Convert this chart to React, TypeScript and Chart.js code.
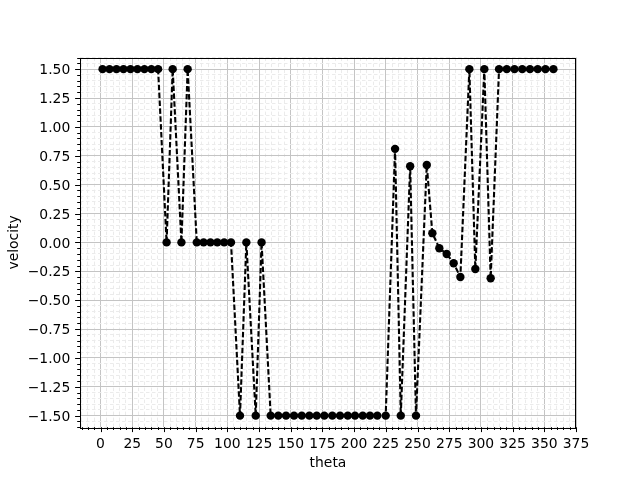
import { useEffect, useRef } from "react";
import { Chart, registerables } from "chart.js";

Chart.register(...registerables);

// ---- data ----
const thetaValues = [
  1.6, 7.1, 12.6, 18.1, 23.6, 29.1, 34.6, 40.1, 45.4,
  52.1, 56.9, 63.8, 68.7,
  75.9, 81.3, 86.7, 92.1, 97.5, 102.9,
  110.0, 115.0, 122.4, 127.0,
  134.2, 140.2, 146.3, 152.6, 158.7, 164.7, 170.5, 176.5, 182.8, 188.9, 195.0, 200.7, 206.8, 212.5, 218.3, 224.9,
  232.3, 236.8, 244.2, 248.8, 257.3, 261.7, 267.2, 273.0, 278.5, 283.8,
  290.9, 295.6, 302.7, 307.7,
  314.3, 320.4, 326.5, 332.6, 338.7, 344.8, 350.9, 357.2,
];
const velocityValues = [
  1.5, 1.5, 1.5, 1.5, 1.5, 1.5, 1.5, 1.5, 1.5,
  0, 1.5, 0, 1.5,
  0, 0, 0, 0, 0, 0,
  -1.5, 0, -1.5, 0,
  -1.5, -1.5, -1.5, -1.5, -1.5, -1.5, -1.5, -1.5, -1.5, -1.5, -1.5, -1.5, -1.5, -1.5, -1.5, -1.5,
  0.81, -1.5, 0.66, -1.5, 0.67, 0.08, -0.05, -0.1, -0.18, -0.3,
  1.5, -0.23, 1.5, -0.31,
  1.5, 1.5, 1.5, 1.5, 1.5, 1.5, 1.5, 1.5,
];
const xMajorTicks = [0, 25, 50, 75, 100, 125, 150, 175, 200, 225, 250, 275, 300, 325, 350, 375];
const yMajorTicks = [-1.5, -1.25, -1.0, -0.75, -0.5, -0.25, 0, 0.25, 0.5, 0.75, 1.0, 1.25, 1.5];
const xMinorStep = 5;
const yMinorStep = 0.05;
const xLimits = [-16.2, 375.0];
const yLimits = [-1.6, 1.6];
const xTitle = "theta";
const yTitle = "velocity";

const FONT = "'DejaVu Sans', sans-serif";
const FONT_SIZE = 13.9;

const isMajor = (v: number, majors: number[]) => majors.some((m) => Math.abs(m - v) < 1e-6);

const stepTicks = (min: number, max: number, step: number) => {
  const out: number[] = [];
  const i0 = Math.ceil(min / step - 1e-9);
  const i1 = Math.floor(max / step + 1e-9);
  for (let i = i0; i <= i1; i++) out.push(Math.round(i * step * 1e6) / 1e6);
  return out;
};

const fmtY = (v: number) => {
  const s = v.toFixed(2);
  return s.startsWith("-") ? "\u2212" + s.slice(1) : s;
};

const framePlugin = {
  id: "mplFrame",
  afterDraw(chart: any) {
    const { ctx, chartArea: a, scales } = chart;
    const xs = scales.x;
    const ys = scales.y;
    ctx.save();
    ctx.strokeStyle = "#000";
    ctx.lineWidth = 1;
    ctx.beginPath();
    for (const v of stepTicks(xLimits[0], xLimits[1], xMinorStep)) {
      const px = Math.round(xs.getPixelForValue(v)) + 0.5;
      const len = isMajor(v, xMajorTicks) ? 4.9 : 2.8;
      ctx.moveTo(px, a.bottom);
      ctx.lineTo(px, a.bottom + len);
    }
    for (const v of stepTicks(yLimits[0], yLimits[1], yMinorStep)) {
      const py = Math.round(ys.getPixelForValue(v)) + 0.5;
      const len = isMajor(v, yMajorTicks) ? 4.9 : 2.8;
      ctx.moveTo(a.left, py);
      ctx.lineTo(a.left - len, py);
    }
    ctx.stroke();
    ctx.strokeRect(Math.round(a.left) + 0.5, Math.round(a.top) + 0.5, Math.round(a.right - a.left) - 1, Math.round(a.bottom - a.top));
    ctx.restore();
  },
};

export default function App() {
  const ref = useRef<HTMLCanvasElement | null>(null);

  useEffect(() => {
    if (!ref.current) return;
    Chart.defaults.font.family = FONT;
    Chart.defaults.font.size = FONT_SIZE;
    Chart.defaults.color = "#000";

    const points = thetaValues.map((t, i) => ({ x: t, y: velocityValues[i] }));

    const gridColor = (majors: number[]) => (ctx: any) =>
      ctx.tick && isMajor(ctx.tick.value, majors) ? "#c4c4c4" : "#ebebeb";
    const gridDash = (majors: number[]) => (ctx: any) =>
      ctx.tick && isMajor(ctx.tick.value, majors) ? [] : [3.5, 2.5];

    const chart = new Chart(ref.current, {
      type: "line",
      data: {
        datasets: [
          {
            data: points,
            borderColor: "#000",
            backgroundColor: "#000",
            borderWidth: 2.1,
            borderDash: [5.5, 2.4],
            pointRadius: 4.2,
            pointHoverRadius: 4.2,
            pointBackgroundColor: "#000",
            pointBorderColor: "#000",
            pointBorderWidth: 0,
            tension: 0,
            fill: false,
          },
        ],
      },
      options: {
        animation: false,
        responsive: false,
        maintainAspectRatio: false,
        events: [],
        layout: { padding: { left: 0, top: 57.6, right: 64, bottom: 0 } },
        plugins: { legend: { display: false }, tooltip: { enabled: false }, title: { display: false } },
        scales: {
          x: {
            type: "linear",
            min: xLimits[0],
            max: xLimits[1],
            afterBuildTicks: (scale: any) => {
              scale.ticks = stepTicks(xLimits[0], xLimits[1], xMinorStep).map((v) => ({ value: v }));
            },
            afterFit: (scale: any) => {
              scale.height = 52.8;
            },
            ticks: {
              autoSkip: false,
              maxRotation: 0,
              minRotation: 0,
              padding: 9,
              color: "#000",
              font: { family: FONT, size: FONT_SIZE },
              callback: (v: any) => (isMajor(Number(v), xMajorTicks) ? String(Math.round(Number(v))) : ""),
            },
            grid: { drawTicks: false, color: gridColor(xMajorTicks), lineWidth: 1 },
            border: { display: false, dash: gridDash(xMajorTicks) },
            title: { display: true, text: xTitle, color: "#000", font: { family: FONT, size: FONT_SIZE }, padding: { top: 0, bottom: 8.5 } },
          },
          y: {
            type: "linear",
            min: yLimits[0],
            max: yLimits[1],
            afterBuildTicks: (scale: any) => {
              scale.ticks = stepTicks(yLimits[0], yLimits[1], yMinorStep).map((v) => ({ value: v }));
            },
            afterFit: (scale: any) => {
              scale.width = 80;
            },
            ticks: {
              autoSkip: false,
              padding: 9.7,
              labelOffset: 1.5,
              color: "#000",
              font: { family: FONT, size: FONT_SIZE },
              callback: (v: any) => (isMajor(Number(v), yMajorTicks) ? fmtY(Number(v)) : ""),
            },
            grid: { drawTicks: false, color: gridColor(yMajorTicks), lineWidth: 1 },
            border: { display: false, dash: gridDash(yMajorTicks) },
            title: { display: true, text: yTitle, color: "#000", font: { family: FONT, size: FONT_SIZE }, padding: { top: 6.5, bottom: 0 } },
          },
        },
      },
      plugins: [framePlugin],
    } as any);

    return () => chart.destroy();
  }, []);

  return (
    <div style={{ position: "fixed", left: 0, top: 0, width: 640, height: 480, background: "#fff" }}>
      <canvas ref={ref} width={640} height={480} style={{ width: 640, height: 480, display: "block" }} />
    </div>
  );
}
